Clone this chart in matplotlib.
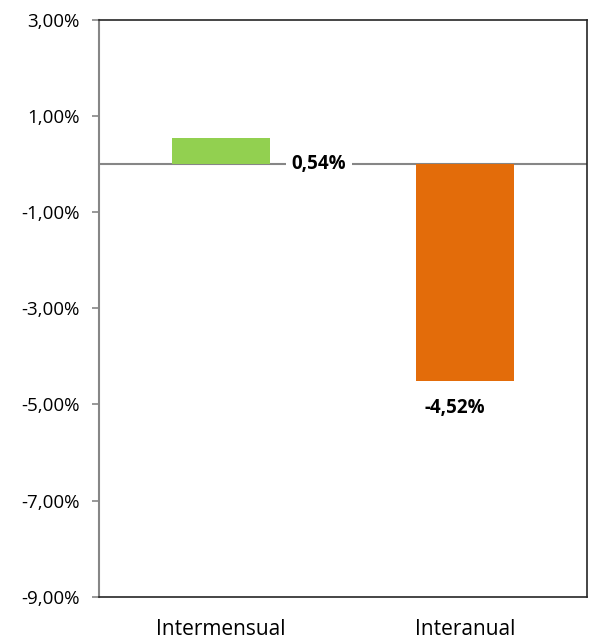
import numpy as np
import matplotlib.pyplot as plt
from matplotlib.ticker import FuncFormatter

categories = ["Intermensual", "Interanual"]
values = [0.54, -4.52]
colors = ["#92d050", "#e36c0a"]
yticks = [3, 1, -1, -3, -5, -7, -9]

plt.rcParams['font.family'] = ['Open Sans', 'DejaVu Sans']

fig = plt.figure(figsize=(5.89, 6.39), dpi=100)
ax = fig.add_axes([0.168, 0.066, 0.8286, 0.903])

x = np.arange(len(categories))
ax.bar(x, values, width=0.4, color=colors, zorder=2)
ax.axhline(0, color="#868686", lw=1.5, zorder=1)

ax.set_xlim(-0.5, 1.5)
ax.set_ylim(-9, 3)
ax.set_yticks(yticks)
ax.yaxis.set_major_formatter(FuncFormatter(lambda v, p: f"{v:.2f}%".replace(".", ",")))
ax.set_xticks(x)
ax.set_xticklabels(categories)
ax.tick_params(axis="x", length=0, pad=16, labelsize=15)
ax.tick_params(axis="y", length=5, width=1.2, color="#868686", labelsize=13.5, pad=9)

for side in ["top", "right", "bottom"]:
    ax.spines[side].set_color("#262626")
    ax.spines[side].set_linewidth(1.2)
ax.spines["left"].set_color("#868686")
ax.spines["left"].set_linewidth(1.5)

# value labels
ax.text(0.4, 0, f"{values[0]:.2f}%".replace(".", ","), ha="center", va="center",
        fontsize=13.5, fontweight="bold", zorder=3,
        bbox=dict(facecolor="white", edgecolor="none", pad=4))
ax.text(0.96, values[1] - 0.35, f"{values[1]:.2f}%".replace(".", ","), ha="center", va="top",
        fontsize=13.5, fontweight="bold")

fig.savefig("out.png", dpi=100)
